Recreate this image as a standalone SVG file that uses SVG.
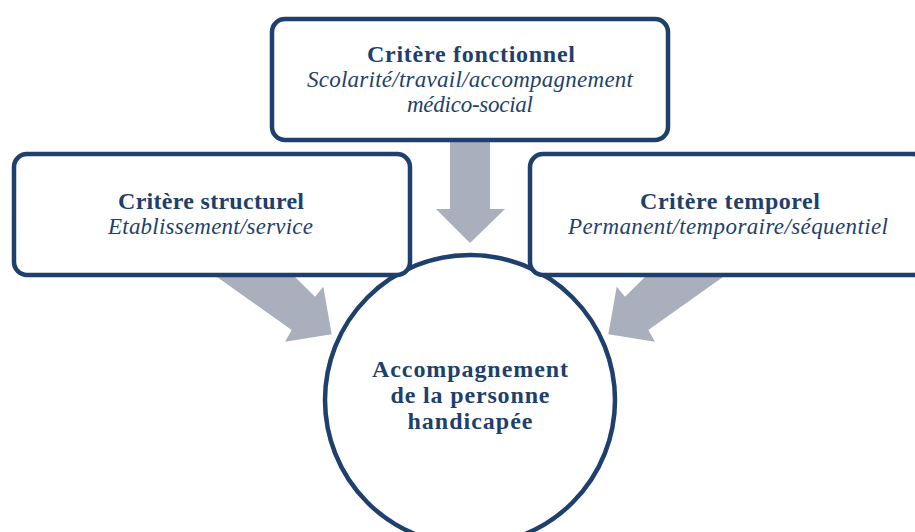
<svg xmlns="http://www.w3.org/2000/svg" width="915" height="532" viewBox="0 0 915 532">
<style>
.box{fill:#fff;stroke:#1f3f6d;stroke-width:4.5}
.arrow{fill:#a9afbc;stroke:none}
.b{font-family:"Liberation Serif",serif;font-weight:bold;font-size:24px;fill:#1f3f6d;text-anchor:middle}
.i{font-family:"Liberation Serif",serif;font-style:italic;font-size:23px;fill:#1f3f6d;text-anchor:middle}
</style>
<rect width="915" height="532" fill="#fff"/>
<g id="center">
<circle cx="470" cy="400" r="145" class="box"/>
<text class="b" x="470" y="377" textLength="196">Accompagnement</text>
<text class="b" x="470" y="403" textLength="159">de la personne</text>
<text class="b" x="470" y="429" textLength="125">handicapée</text>
</g>
<g id="connectors">
<polygon class="arrow" points="450,140 490,140 490,209 505,209 470,243 436,209 450,209"/>
<polygon class="arrow" points="210,272 290,272 315,296.7 323.3,286.7 331.7,334.3 285,341.7 291.7,330"/>
<polygon class="arrow" points="730,272 650,272 625,296.7 616.7,286.7 608.3,334.3 655,341.7 648.3,330"/>
</g>
<g id="fonctionnel">
<rect class="box" x="272" y="19" width="396" height="121" rx="13"/>
<text class="b" x="471" y="62" textLength="208">Critère fonctionnel</text>
<text class="i" x="470" y="87" textLength="326">Scolarité/travail/accompagnement</text>
<text class="i" x="470" y="112" textLength="126">médico-social</text>
</g>
<g id="structurel">
<rect class="box" x="14" y="154" width="396" height="121" rx="13"/>
<text class="b" x="211" y="209" textLength="186">Critère structurel</text>
<text class="i" x="210.5" y="234" textLength="205">Etablissement/service</text>
</g>
<g id="temporel">
<rect class="box" x="530" y="154" width="396" height="121" rx="13"/>
<text class="b" x="730" y="209" textLength="180">Critère temporel</text>
<text class="i" x="728" y="234" textLength="320">Permanent/temporaire/séquentiel</text>
</g>
</svg>
